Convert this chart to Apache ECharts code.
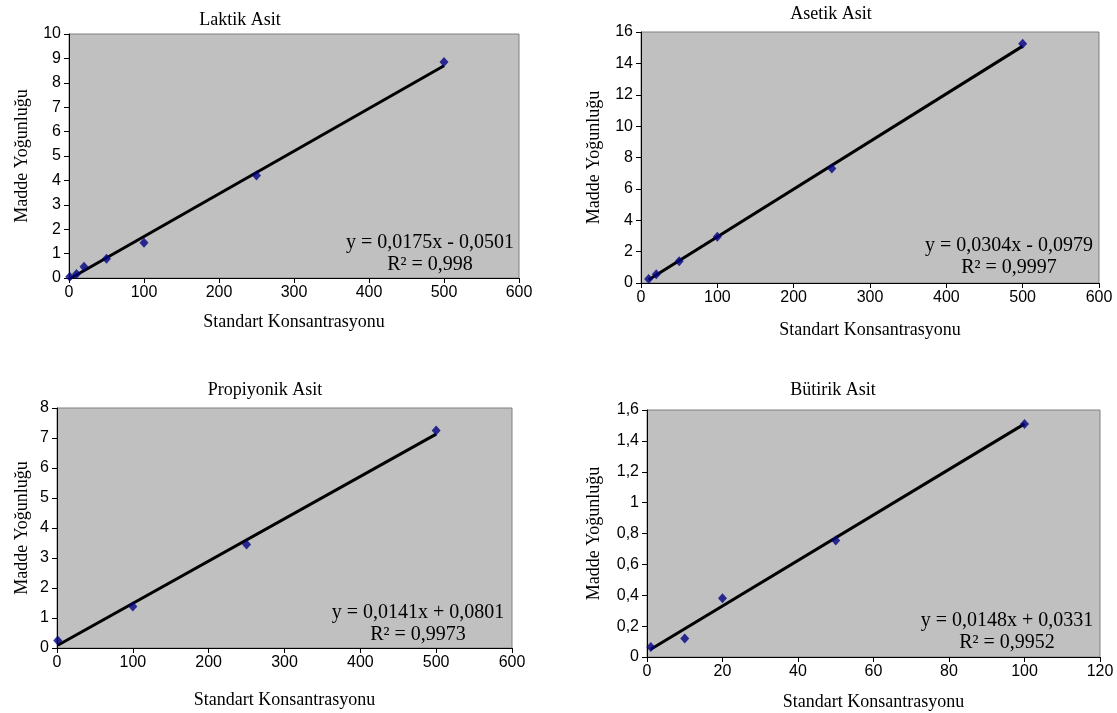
<!DOCTYPE html>
<html>
<head>
<meta charset="utf-8">
<script src="https://cdn.jsdelivr.net/npm/echarts@6/dist/echarts.min.js"></script>
<style>
  html, body { margin: 0; padding: 0; background: #fff; }
  #main { width: 1117px; height: 713px; }
</style>
</head>
<body>
<div id="main"></div>
<script>
// kalibrasyon verileri (okunan degerler)
var laktikX = [1, 10, 20, 50, 100, 250, 500];
var laktikY = [0.05, 0.16, 0.46, 0.79, 1.44, 4.2, 8.85];
var laktikTrend = [[1, -0.03], [500, 8.70]];

var asetikX = [10, 20, 50, 100, 250, 500];
var asetikY = [0.25, 0.55, 1.38, 2.95, 7.3, 15.25];
var asetikTrend = [[10, 0.21], [500, 15.10]];

var propiyonikX = [1, 100, 250, 500];
var propiyonikY = [0.25, 1.38, 3.45, 7.25];
var propiyonikTrend = [[1, 0.09], [500, 7.13]];

var butirikX = [1, 10, 20, 50, 100];
var butirikY = [0.065, 0.12, 0.38, 0.755, 1.51];
var butirikTrend = [[1, 0.05], [100, 1.51]];

var titles = ["Laktik Asit", "Asetik Asit", "Propiyonik Asit", "Bütirik Asit"];
var equations = [
  ["y = 0,0175x - 0,0501", "R² = 0,998"],
  ["y = 0,0304x - 0,0979", "R² = 0,9997"],
  ["y = 0,0141x + 0,0801", "R² = 0,9973"],
  ["y = 0,0148x + 0,0331", "R² = 0,9952"]
];

var yMax = [10, 16, 8, 1.6];
var yStep = [1, 2, 1, 0.2];
var xMax = [600, 600, 600, 120];
var xStep = [100, 100, 100, 20];

var yName = "Madde Yoğunluğu";
var xName = "Standart Konsantrasyonu";

var serif = "'Liberation Serif', 'Times New Roman', serif";
var sans = "'Liberation Sans', Arial, sans-serif";

function pairs(xs, ys) {
  var out = [];
  for (var i = 0; i < xs.length; i++) out.push([xs[i], ys[i]]);
  return out;
}

var grids = [
  { left: 69, top: 34, width: 450, height: 244 },
  { left: 641, top: 32, width: 458, height: 251 },
  { left: 57, top: 408, width: 455, height: 240 },
  { left: 647, top: 410, width: 453, height: 247 }
];
var titlePos = [[235, 6], [826, 0], [260, 376], [828, 376]];
var eqPos = [[430, 254], [1009, 257], [418, 624], [1007, 632]];
var yGap = [38, 38, 26, 44];
var xGap = [35, 38, 43, 36];

var points = [
  pairs(laktikX, laktikY),
  pairs(asetikX, asetikY),
  pairs(propiyonikX, propiyonikY),
  pairs(butirikX, butirikY)
];
var trends = [laktikTrend, asetikTrend, propiyonikTrend, butirikTrend];

var chart = echarts.init(document.getElementById("main"));

var option = {
  backgroundColor: "#ffffff",
  animation: false,
  title: [],
  grid: [],
  xAxis: [],
  yAxis: [],
  series: [],
  graphic: []
};

for (var k = 0; k < 4; k++) {
  option.title.push({
    text: titles[k],
    left: titlePos[k][0],
    top: titlePos[k][1],
    textAlign: "center",
    textStyle: { fontFamily: serif, fontSize: 18, fontWeight: "normal", color: "#000" }
  });
  var g = grids[k];
  option.grid.push({
    left: g.left, top: g.top, width: g.width, height: g.height,
    show: true, backgroundColor: "#c0c0c0", borderColor: "#808080", borderWidth: 1
  });
  option.xAxis.push({
    type: "value", gridIndex: k, min: 0, max: xMax[k], interval: xStep[k],
    name: xName, nameLocation: "middle", nameGap: xGap[k],
    nameTextStyle: { fontFamily: serif, fontSize: 18, color: "#000" },
    axisLine: { show: true, onZero: false, lineStyle: { color: "#000", width: 1 } },
    axisTick: { show: true, inside: false, length: 5, lineStyle: { color: "#000" } },
    axisLabel: { fontFamily: sans, fontSize: 16, color: "#000", margin: 7 },
    splitLine: { show: false }
  });
  option.yAxis.push({
    type: "value", gridIndex: k, min: 0, max: yMax[k], interval: yStep[k],
    name: yName, nameLocation: "middle", nameGap: yGap[k], nameRotate: 90,
    nameTextStyle: { fontFamily: serif, fontSize: 18, color: "#000" },
    axisLine: { show: true, onZero: false, lineStyle: { color: "#000", width: 1 } },
    axisTick: { show: true, inside: false, length: 5, lineStyle: { color: "#000" } },
    axisLabel: {
      fontFamily: sans, fontSize: 16, color: "#000", margin: 8,
      formatter: function (v) { return String(Math.round(v * 10) / 10).replace(".", ","); }
    },
    splitLine: { show: false }
  });
  option.series.push({
    type: "line", xAxisIndex: k, yAxisIndex: k, data: trends[k],
    symbol: "none", lineStyle: { color: "#000", width: 3 }, z: 2
  });
  option.series.push({
    type: "scatter", xAxisIndex: k, yAxisIndex: k, data: points[k],
    symbol: "diamond", symbolSize: [9, 10],
    itemStyle: { color: "#000080" }, z: 3
  });
  option.graphic.push({
    type: "text", x: eqPos[k][0], y: eqPos[k][1],
    style: {
      text: equations[k][0] + "\n" + equations[k][1],
      font: "20px " + serif, fill: "#000", align: "center", verticalAlign: "middle",
      lineHeight: 22
    },
    z: 10
  });
}

chart.setOption(option);
</script>
</body>
</html>
